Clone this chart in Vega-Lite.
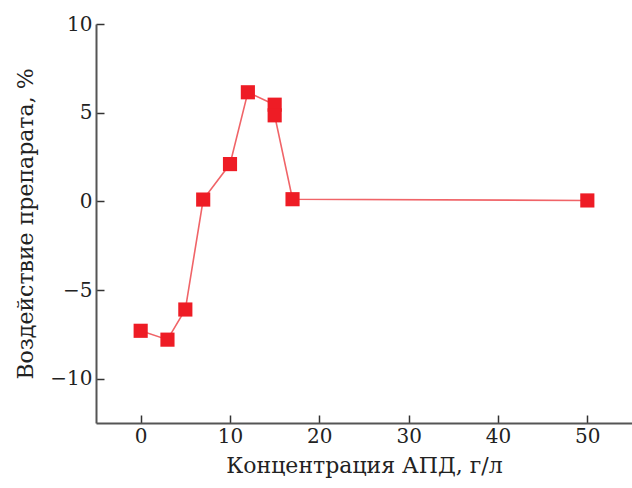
{
  "$schema": "https://vega.github.io/schema/vega-lite/v6.json",
  "autosize": "none",
  "width": 536,
  "height": 399,
  "padding": {"left": 96, "top": 24, "right": 0, "bottom": 65},
  "background": "white",
  "config": {
    "view": {"stroke": null},
    "axis": {
      "labelFont": "DejaVu Serif",
      "titleFont": "DejaVu Serif",
      "labelFontSize": 20,
      "titleFontSize": 22,
      "titleFontWeight": "normal",
      "labelColor": "#222",
      "titleColor": "#222",
      "domainColor": "#555",
      "domainWidth": 2,
      "tickColor": "#333",
      "tickWidth": 1.5,
      "tickSize": -8,
      "grid": false
    }
  },
  "data": {
    "values": [
      {"c": 0, "v": -7.3},
      {"c": 3, "v": -7.8},
      {"c": 5, "v": -6.1},
      {"c": 7, "v": 0.1},
      {"c": 10, "v": 2.1},
      {"c": 12, "v": 6.15},
      {"c": 15, "v": 5.45},
      {"c": 15, "v": 4.85},
      {"c": 17, "v": 0.12},
      {"c": 50, "v": 0.05}
    ]
  },
  "encoding": {
    "x": {
      "field": "c", "type": "quantitative",
      "scale": {"domain": [-5, 55], "nice": false, "zero": false},
      "axis": {"values": [0, 10, 20, 30, 40, 50], "title": "Концентрация АПД, г/л", "labelPadding": 11, "titlePadding": 9}
    },
    "y": {
      "field": "v", "type": "quantitative",
      "scale": {"domain": [-12.5, 10], "nice": false, "zero": false},
      "axis": {"values": [-10, -5, 0, 5, 10], "title": "Воздействие препарата, %", "labelPadding": 12, "titlePadding": 12}
    }
  },
  "layer": [
    {"mark": {"type": "line", "color": "#f06468", "strokeWidth": 1.6}},
    {"mark": {"type": "square", "size": 200, "color": "#ee1c25", "opacity": 1, "filled": true}}
  ]
}
